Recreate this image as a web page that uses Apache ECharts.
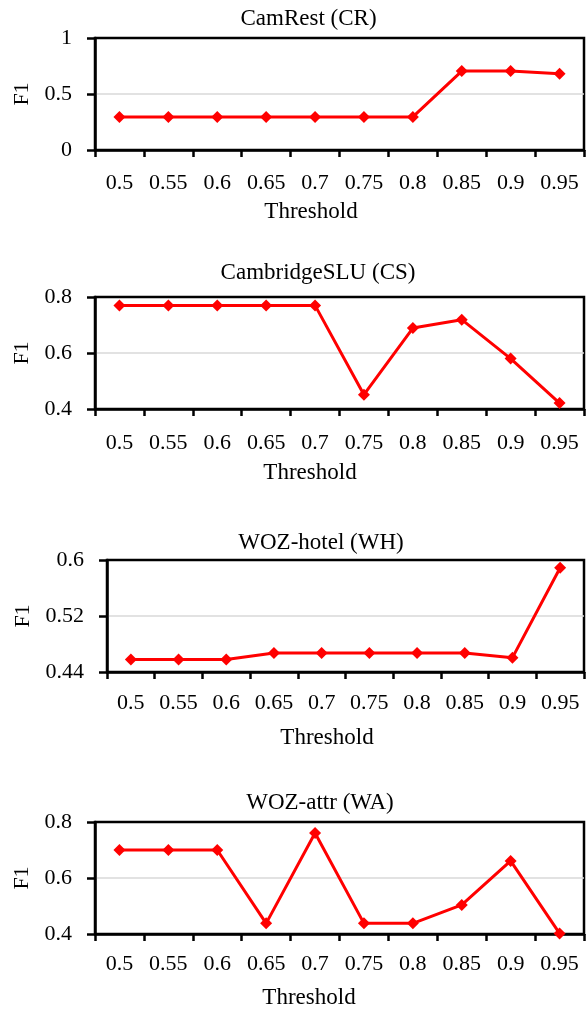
<!DOCTYPE html>
<html>
<head>
<meta charset="utf-8">
<script src="https://cdn.jsdelivr.net/npm/echarts@6/dist/echarts.min.js"></script>
<style>
html,body{margin:0;padding:0;background:#fff;}
#chart{width:588px;height:1010px;}
</style>
</head>
<body>
<div id="chart"></div>
<script>
// ---- data ----
const thresholds = ['0.5','0.55','0.6','0.65','0.7','0.75','0.8','0.85','0.9','0.95'];
const titles = ['CamRest (CR)', 'CambridgeSLU (CS)', 'WOZ-hotel (WH)', 'WOZ-attr (WA)'];
const camRest      = [0.295, 0.295, 0.295, 0.295, 0.295, 0.295, 0.295, 0.705, 0.705, 0.68];
const cambridgeSLU = [0.77, 0.77, 0.77, 0.77, 0.77, 0.451, 0.689, 0.719, 0.58, 0.421];
const wozHotel     = [0.458, 0.458, 0.458, 0.467, 0.467, 0.467, 0.467, 0.467, 0.4605, 0.589];
const wozAttr      = [0.70, 0.70, 0.70, 0.438, 0.761, 0.438, 0.438, 0.504, 0.661, 0.402];
const yMins      = [0, 0.4, 0.44, 0.4];
const yMaxs      = [1, 0.8, 0.6, 0.8];
const yIntervals = [0.5, 0.2, 0.08, 0.2];
const xName = 'Threshold';
const yName = 'F1';

// ---- layout ----
const FONT = '"Liberation Serif", "Times New Roman", serif';
const FS = 22;
const gridTops   = [38, 297, 560, 822];
const gridLefts  = [95, 95, 107, 95];
const titleX     = [308.5, 318, 321, 320];
const titleY     = [18.5, 273, 543, 803];
const nameGaps   = [50, 52, 54, 52];
const namePadR   = [57, 59, 37, 61];
const labelMargs = [22, 23, 20, 19];
const seriesData = [camRest, cambridgeSLU, wozHotel, wozAttr];

const chart = echarts.init(document.getElementById('chart'), null, {renderer: 'canvas'});

const grids = [], xAxes = [], yAxes = [], series = [], graphics = [];
for (let i = 0; i < 4; i++) {
  grids.push({
    left: gridLefts[i], right: 4, top: gridTops[i], height: 112,
    show: true, borderColor: '#000', borderWidth: 2.5, backgroundColor: 'transparent'
  });
  xAxes.push({
    type: 'category', gridIndex: i, data: thresholds, boundaryGap: true,
    name: xName, nameLocation: 'middle', nameGap: nameGaps[i],
    nameTextStyle: {fontFamily: FONT, fontSize: 23, color: '#000', padding: [0, namePadR[i], 0, 0]},
    axisLine: {show: true, lineStyle: {color: '#000', width: 2.5}},
    axisTick: {show: true, alignWithLabel: false, length: 7, lineStyle: {color: '#000', width: 2.5}},
    axisLabel: {show: true, interval: 0, margin: labelMargs[i], fontFamily: FONT, fontSize: FS, color: '#000'},
    splitLine: {show: false}
  });
  yAxes.push({
    type: 'value', gridIndex: i, min: yMins[i], max: yMaxs[i], interval: yIntervals[i],
    name: yName, nameLocation: 'middle', nameGap: gridLefts[i] - 34,
    nameTextStyle: {fontFamily: FONT, fontSize: FS, color: '#000'},
    axisLine: {show: true, lineStyle: {color: '#000', width: 2.5}},
    axisTick: {show: true, length: 8, lineStyle: {color: '#000', width: 2.5}},
    axisLabel: {show: true, margin: 23, fontFamily: FONT, fontSize: FS, color: '#000'},
    splitLine: {show: true, lineStyle: {color: ['transparent', '#d9d9d9'], width: 1.5}}
  });
  series.push({
    type: 'line', xAxisIndex: i, yAxisIndex: i, data: seriesData[i],
    symbol: 'diamond', symbolSize: 12,
    lineStyle: {color: '#ff0000', width: 3},
    itemStyle: {color: '#ff0000'},
    animation: false
  });
  graphics.push({
    type: 'text', x: titleX[i], y: titleY[i],
    style: {text: titles[i], fontFamily: FONT, fontSize: 23, fill: '#000', align: 'center', verticalAlign: 'middle'}
  });
}

chart.setOption({
  backgroundColor: '#fff',
  animation: false,
  grid: grids,
  xAxis: xAxes,
  yAxis: yAxes,
  series: series,
  graphic: graphics
});
</script>
</body>
</html>
